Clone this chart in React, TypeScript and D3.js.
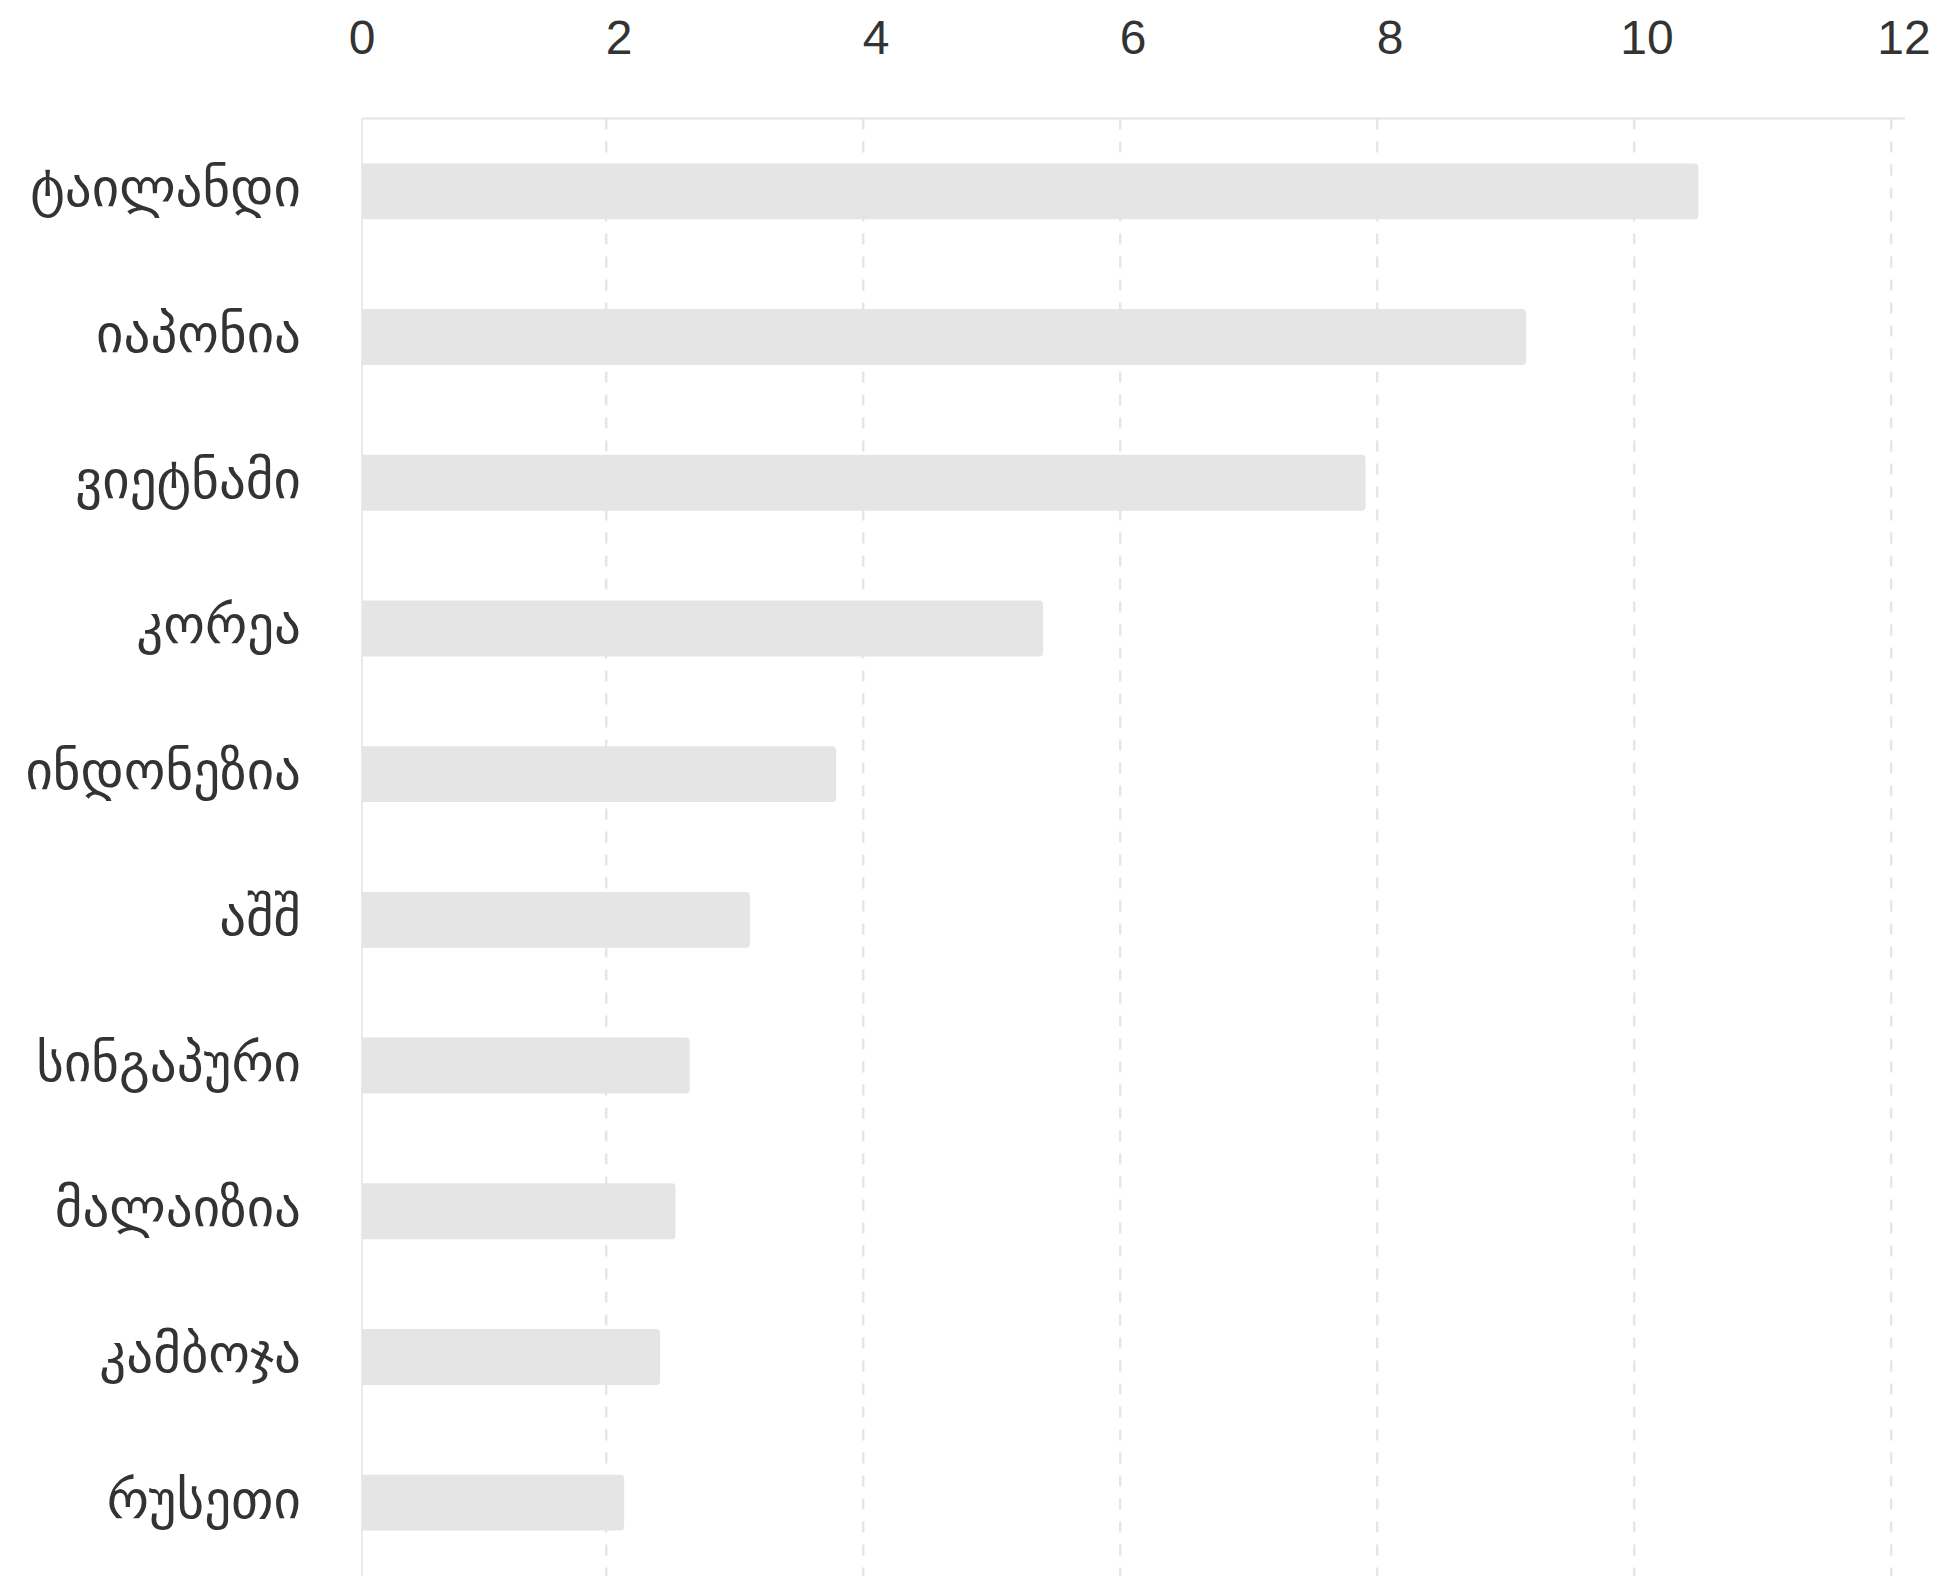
import React from "react";
import * as d3 from "d3";

const categories = [
  "ტაილანდი",
  "იაპონია",
  "ვიეტნამი",
  "კორეა",
  "ინდონეზია",
  "აშშ",
  "სინგაპური",
  "მალაიზია",
  "კამბოჯა",
  "რუსეთი",
];
const values = [10.4, 9.06, 7.81, 5.3, 3.69, 3.02, 2.55, 2.44, 2.32, 2.04];
const tickValues = [0, 2, 4, 6, 8, 10, 12];

const W = 1942;
const H = 1576;
const M = { left: 362, right: 38, top: 118.5, bottom: 0.5 };
const GRID_SHIFT = -12.8;
const FONT = "'Liberation Sans', Arial, 'DejaVu Sans', sans-serif";

export default function App() {
  const x = d3.scaleLinear().domain([0, 12]).range([M.left, W - M.right]);
  const y = d3
    .scaleBand<string>()
    .domain(categories)
    .range([M.top, H - M.bottom])
    .paddingInner(0.616)
    .paddingOuter(0.308);
  const bw = y.bandwidth();
  const r = 4;

  const barPath = (v: number, c: string) => {
    const x0 = x(0);
    const x1 = x(v);
    const y0 = y(c)!;
    const y1 = y0 + bw;
    return `M${x0},${y0}H${x1 - r}Q${x1},${y0} ${x1},${y0 + r}V${y1 - r}Q${x1},${y1} ${x1 - r},${y1}H${x0}Z`;
  };

  return (
    <svg
      width={W}
      height={H}
      style={{ position: "absolute", left: 0, top: 0, background: "#fff" }}
      fontFamily={FONT}
    >
      {tickValues
        .filter((t) => t > 0)
        .map((t) => (
          <line
            key={"g" + t}
            x1={x(t) + GRID_SHIFT}
            x2={x(t) + GRID_SHIFT}
            y1={M.top}
            y2={H}
            stroke="#e6e6e6"
            strokeWidth={2.5}
            strokeDasharray="11 12"
          />
        ))}
      <line x1={x(0)} x2={x(12) + 1} y1={M.top} y2={M.top} stroke="#e3e3e3" strokeWidth={2} />
      <line x1={x(0)} x2={x(0)} y1={M.top} y2={H} stroke="#e3e3e3" strokeWidth={1.5} />
      {categories.map((c, i) => (
        <path key={"b" + c} d={barPath(values[i], c)} fill="#e5e5e5" />
      ))}
      {tickValues.map((t) => (
        <text
          key={"t" + t}
          x={x(t)}
          y={54}
          textAnchor="middle"
          fontSize={48}
          fill="#333"
        >
          {t}
        </text>
      ))}
      {categories.map((c) => (
        <text
          key={"l" + c}
          x={301}
          y={y(c)! + bw / 2 + 15}
          textAnchor="end"
          fontSize={53}
          fill="#333"
        >
          {c}
        </text>
      ))}
    </svg>
  );
}
